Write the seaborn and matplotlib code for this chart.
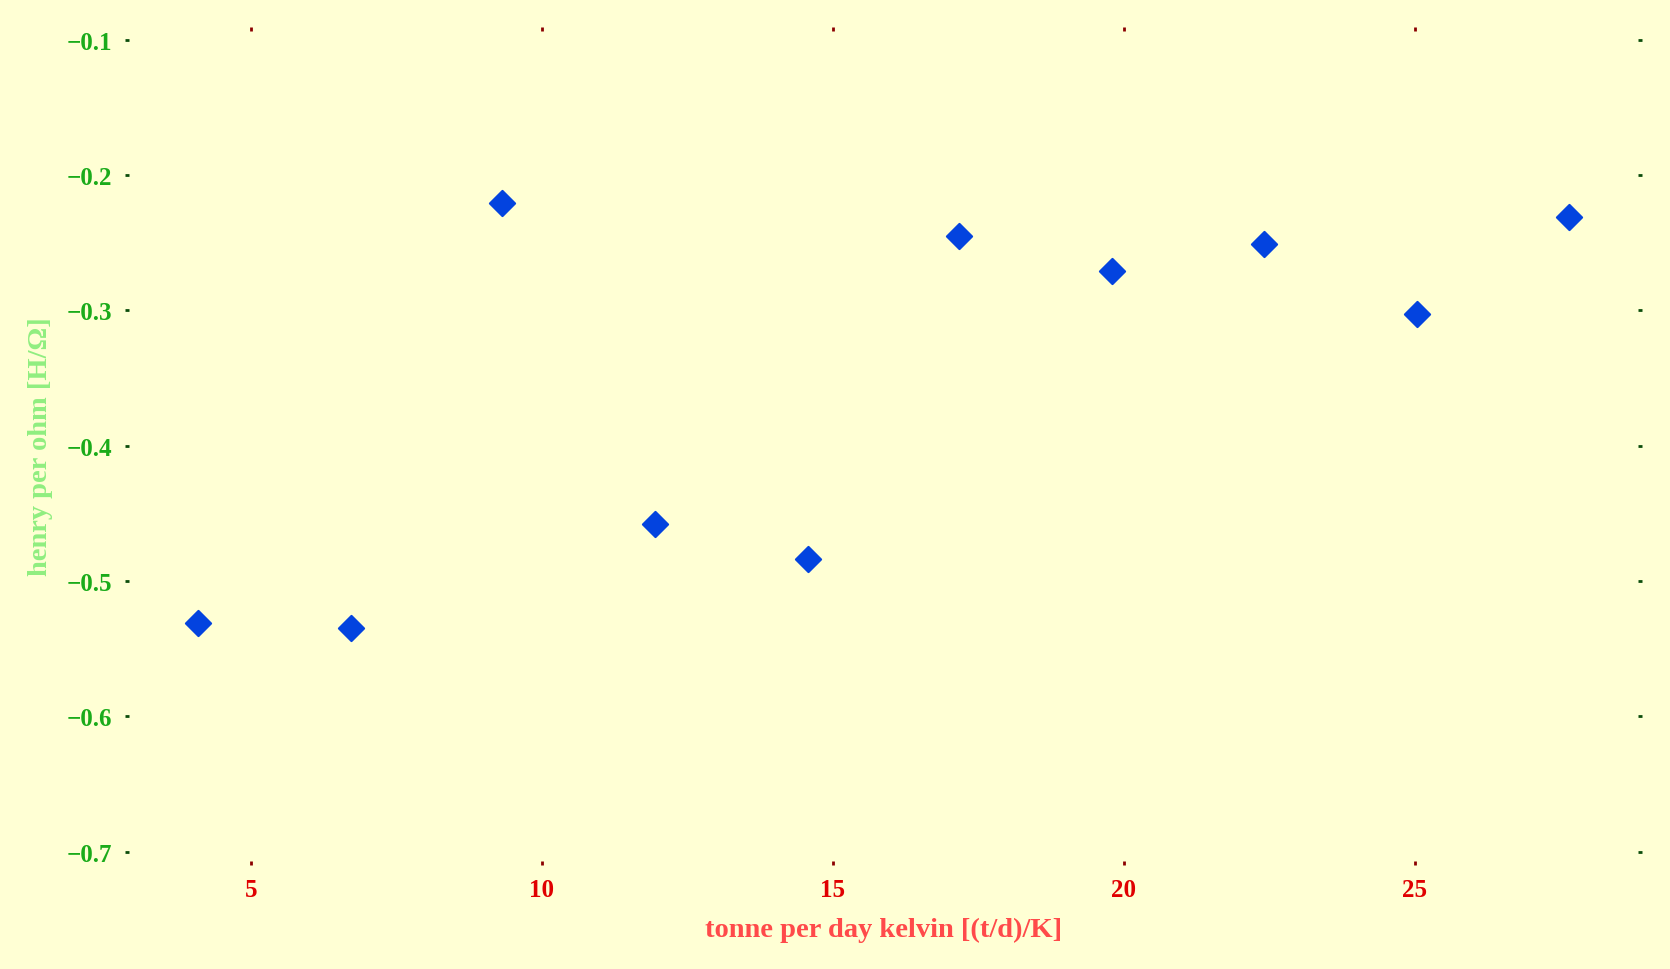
import numpy as np
import pandas as pd
import matplotlib
matplotlib.use("Agg")
import matplotlib.pyplot as plt
import seaborn as sns

# ── Data ──────────────────────────────────────────────────────────────────────
x_vals = [4.09, 6.72, 9.32, 11.95, 14.58, 17.18, 19.81, 22.41, 25.04, 27.66]
y_vals = [-0.531, -0.535, -0.221, -0.458, -0.484, -0.245, -0.271, -0.251, -0.303, -0.231]
x_ticks = [5, 10, 15, 20, 25]
y_ticks = [-0.1, -0.2, -0.3, -0.4, -0.5, -0.6, -0.7]

x_label = "tonne per day kelvin [(t/d)/K]"
y_label = "henry per ohm [H/\u03a9]"

df = pd.DataFrame({"x": x_vals, "y": y_vals})

# ── Style ─────────────────────────────────────────────────────────────────────
BG = "#ffffd4"
sns.set_style("white")
plt.rcParams["font.family"] = ["Liberation Serif", "DejaVu Serif"]
plt.rcParams["font.weight"] = "bold"

fig, ax = plt.subplots(figsize=(16.7, 9.7), dpi=100)
fig.patch.set_facecolor(BG)
ax.set_facecolor(BG)
fig.subplots_adjust(left=129 / 1670, right=1638 / 1670,
                    top=1 - 32 / 970, bottom=1 - 862 / 970)

sns.scatterplot(data=df, x="x", y="y", ax=ax, marker="D", s=165,
                color="#0343df", edgecolor="#0343df", linewidth=1.5,
                zorder=3)

ax.set_xlim(2.91, 28.84)
ax.set_ylim(-0.707, -0.0937)
ax.set_xticks(x_ticks)
ax.set_yticks(y_ticks)
ax.set_xticklabels([str(t) for t in x_ticks])
ax.set_yticklabels([f"\u2212{abs(t):.1f}" for t in y_ticks])

for s in ax.spines.values():
    s.set_visible(False)

ax.tick_params(axis="x", top=True, bottom=True, direction="out",
               length=3, width=2, color="#8b0000", labelcolor="#e00000",
               labelsize=18, pad=9)
ax.tick_params(axis="y", left=True, right=True, direction="out",
               length=3, width=2, color="#0b4d0b", labelcolor="#1aab1a",
               labelsize=18, pad=9)

ax.set_xlabel(x_label, color="#ff4a4a", fontsize=20.5, fontweight="bold",
              labelpad=12)
ax.set_ylabel(y_label, color="#90ee80", fontsize=20.5, fontweight="bold",
              labelpad=10)

plt.savefig("out.png", dpi=100, facecolor=BG)
plt.close()
